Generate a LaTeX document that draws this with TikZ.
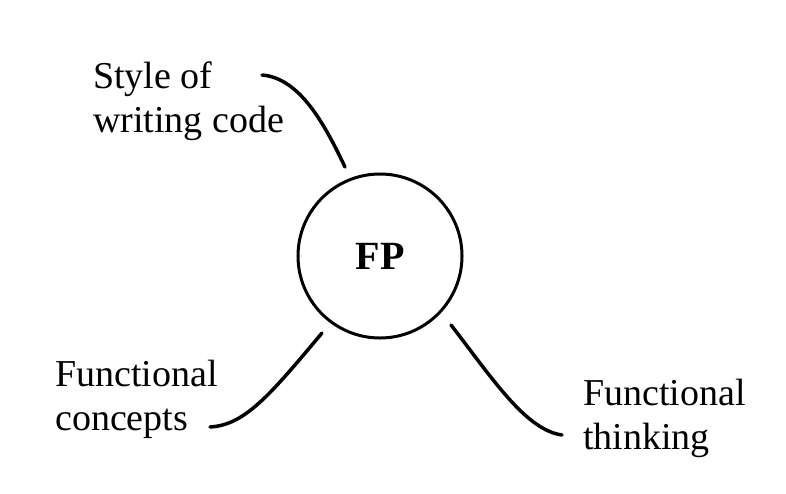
\documentclass[tikz,border=0pt]{standalone}
\usepackage{fontspec}
\setmainfont{Liberation Serif}
\begin{document}
\begin{tikzpicture}[x=1pt,y=-1pt,
  lbl/.style={inner sep=0pt,anchor=base west,align=left,font=\fontsize{38}{44}\selectfont},
  hub/.style={circle,draw,line width=3pt,minimum size=164pt,inner sep=0pt,font=\fontsize{40}{48}\selectfont\bfseries},
  conn/.style={line width=3.5pt,line cap=round}]
\useasboundingbox (0,0) rectangle (786,493);
\fill[white] (0,0) rectangle (786,493);
\node[hub] (fp) at (380,256) {FP};
\node[lbl] (style) at (93,132) {Style of\\writing code};
\node[lbl] (concepts) at (55,430) {Functional\\concepts};
\node[lbl] (thinking) at (583,449) {Functional\\thinking};
\coordinate (t1) at (262,75);
\coordinate (t2) at (345,167);
\coordinate (l1) at (322,333);
\coordinate (l2) at (210,427);
\coordinate (r1) at (451,325);
\coordinate (r2) at (562,435);
\draw[conn] (t1) .. controls (300,78) and (325,125) .. (t2);
\draw[conn] (l1) .. controls (270,395) and (245,425) .. (l2);
\draw[conn] (r1) .. controls (490,375) and (525,430) .. (r2);
\end{tikzpicture}
\end{document}
